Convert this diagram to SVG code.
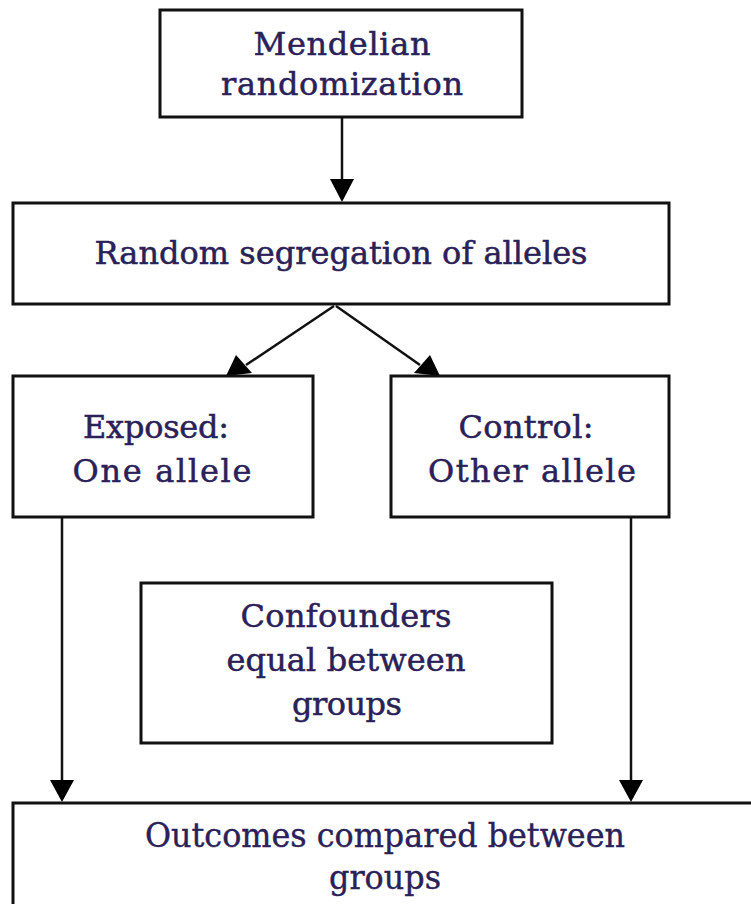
<svg xmlns="http://www.w3.org/2000/svg" width="751" height="904" viewBox="0 0 751 904">
  <style>
    .box { fill: #ffffff; stroke: #111111; stroke-width: 3; }
    .lbl { font-family: "DejaVu Serif", "Liberation Serif", serif; font-size: 32px; fill: #2a2158; stroke: #2a2158; stroke-width: 0.5; text-anchor: middle; }
    .cond { font-family: "DejaVu Serif", "Liberation Serif", serif; font-size: 33px; fill: #2a2158; stroke: #2a2158; stroke-width: 0.4; text-anchor: middle; }
    .wire { stroke: #111111; stroke-width: 2.5; fill: none; }
    .head { fill: #000000; }
  </style>
  <rect width="751" height="904" fill="#ffffff"/>

  <g id="connectors">
    <line class="wire" x1="342" y1="118" x2="342" y2="185"/>
    <path class="head" d="M330,179 L354,179 L342,202 z"/>
    <line class="wire" x1="334" y1="306" x2="246" y2="365"/>
    <path class="head" d="M226,376 L236,355 L252,373 z"/>
    <line class="wire" x1="336" y1="306" x2="420" y2="365"/>
    <path class="head" d="M440,376 L430,355 L414,373 z"/>
    <line class="wire" x1="62" y1="518" x2="62" y2="782"/>
    <path class="head" d="M50,780 L74,780 L62,802 z"/>
    <line class="wire" x1="631" y1="518" x2="631" y2="782"/>
    <path class="head" d="M619,780 L643,780 L631,802 z"/>
  </g>

  <g id="mendelian">
    <rect class="box" x="160" y="10" width="362" height="107"/>
    <text class="lbl" x="342" y="55" textLength="177">Mendelian</text>
    <text class="lbl" x="342" y="95" textLength="242">randomization</text>
  </g>

  <g id="segregation">
    <rect class="box" x="13" y="203" width="656" height="101"/>
    <text class="lbl" x="341" y="264" textLength="493">Random segregation of alleles</text>
  </g>

  <g id="exposed">
    <rect class="box" x="13" y="376" width="300" height="141"/>
    <text class="lbl" x="156" y="438" textLength="146">Exposed:</text>
    <text class="lbl" x="162" y="482" textLength="179">One allele</text>
  </g>

  <g id="control">
    <rect class="box" x="391" y="376" width="278" height="141"/>
    <text class="lbl" x="526" y="438" textLength="135">Control:</text>
    <text class="lbl" x="532" y="482" textLength="208">Other allele</text>
  </g>

  <g id="confounders">
    <rect class="box" x="141" y="583" width="411" height="160"/>
    <text class="lbl" x="346" y="627" textLength="211">Confounders</text>
    <text class="lbl" x="346" y="671" textLength="239">equal between</text>
    <text class="lbl" x="347" y="715" textLength="110">groups</text>
  </g>

  <g id="outcomes">
    <rect class="box" x="13" y="803" width="750" height="120"/>
    <text class="cond" x="385" y="847" textLength="480" lengthAdjust="spacingAndGlyphs">Outcomes compared between</text>
    <text class="cond" x="385" y="889" textLength="112" lengthAdjust="spacingAndGlyphs">groups</text>
  </g>
</svg>
